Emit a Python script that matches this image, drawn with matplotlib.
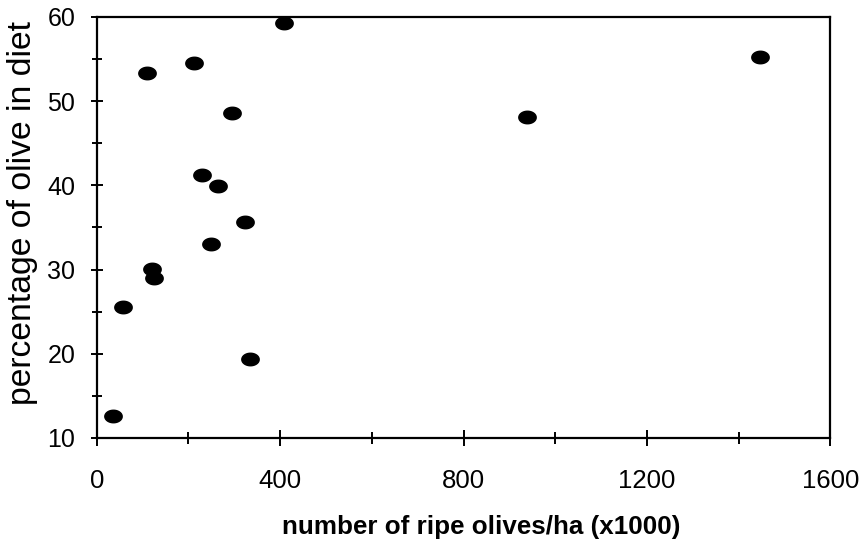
import numpy as np
import matplotlib
matplotlib.use("Agg")
import matplotlib.pyplot as plt
from matplotlib.path import Path
from matplotlib.ticker import MultipleLocator

# ripe olives per ha (x1000) vs % olive in diet
olives = [35, 57, 120, 124, 109, 212, 408, 295, 229, 264, 323, 249, 334, 939, 1447]
pct_olive = [12.6, 25.6, 30.1, 29.0, 53.4, 54.5, 59.3, 48.6, 41.2, 39.9, 35.6, 33.0, 19.4, 48.1, 55.3]

x_ticks = [0, 400, 800, 1200, 1600]
y_ticks = [10, 20, 30, 40, 50, 60]

# flat ellipse marker like the original
t = np.linspace(0, 2 * np.pi, 60)
ellipse = Path(np.column_stack([np.cos(t), 0.72 * np.sin(t)]))

fig = plt.figure(figsize=(8.64, 5.48), dpi=100)
ax = fig.add_axes([0.112, 0.201, 0.849, 0.768])

ax.plot(olives, pct_olive, linestyle="none", marker=ellipse, markersize=12.5,
        color="black", clip_on=False)

ax.set_xlim(0, 1600)
ax.set_ylim(10, 60)
ax.set_xticks(x_ticks)
ax.set_yticks(y_ticks)
ax.xaxis.set_minor_locator(MultipleLocator(200))
ax.yaxis.set_minor_locator(MultipleLocator(5))

for s in ax.spines.values():
    s.set_linewidth(1.6)

ax.tick_params(axis="x", which="major", direction="inout", length=11, width=1.4, pad=17)
ax.tick_params(axis="x", which="minor", direction="inout", length=8.5, width=1.4)
ax.tick_params(axis="y", which="major", direction="inout", length=9, width=1.4, pad=11)
ax.tick_params(axis="y", which="minor", direction="inout", length=6.5, width=1.4)

for lab in ax.get_xticklabels():
    lab.set_family(["Liberation Sans", "DejaVu Sans"])
    lab.set_fontsize(18.5)
for lab in ax.get_yticklabels():
    lab.set_family(["Liberation Sans", "DejaVu Sans"])
    lab.set_fontsize(18)

ax.set_xlabel("number of ripe olives/ha (x1000)", family=["Liberation Sans", "DejaVu Sans"],
              fontweight="bold", fontsize=18.7)
ax.xaxis.set_label_coords(0.524, -0.184)
ax.set_ylabel("percentage of olive in diet", family=["Liberation Sans", "DejaVu Sans"],
              fontsize=24.3)
ax.yaxis.set_label_coords(-0.080, 0.535)

fig.savefig("out.png", dpi=100)
